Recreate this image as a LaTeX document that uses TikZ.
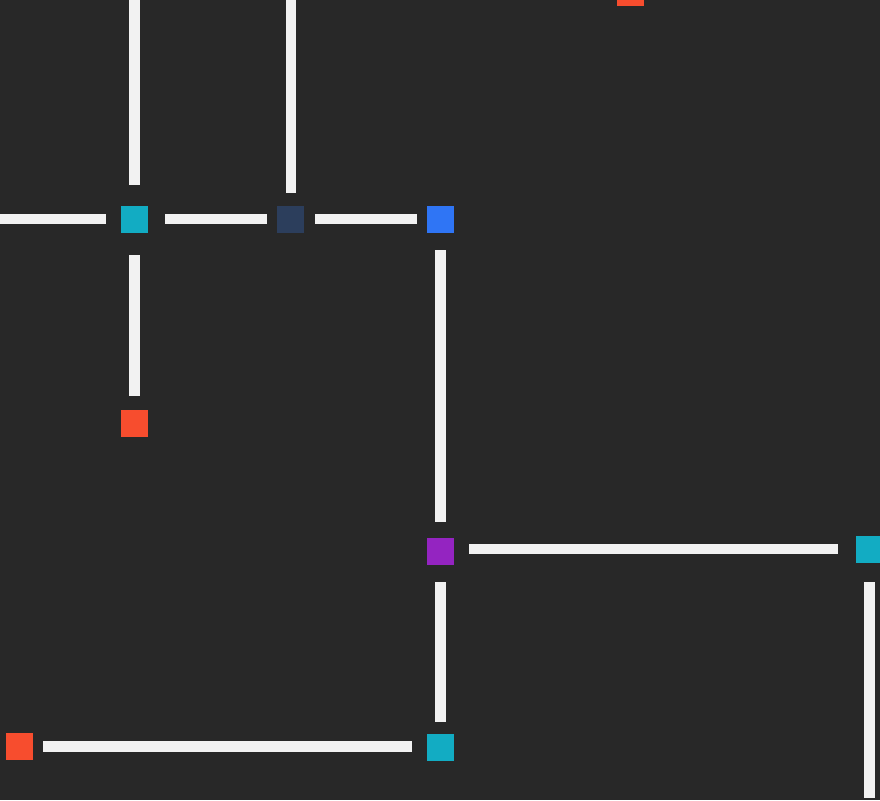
\documentclass[tikz,border=0pt]{standalone}
\usetikzlibrary{positioning}
\definecolor{bgdark}{HTML}{282828}
\definecolor{linkwhite}{HTML}{F2F2F2}
\definecolor{tealbox}{HTML}{12ACC3}
\definecolor{navybox}{HTML}{2C3E5C}
\definecolor{bluebox}{HTML}{2F75F5}
\definecolor{purplebox}{HTML}{9424C1}
\definecolor{redbox}{HTML}{F74D2E}

\begin{document}
\begin{tikzpicture}[
x=1pt, y=-1pt,
every node/.style={rectangle, minimum size=27pt, inner sep=0pt, outer sep=0pt},
link/.style={draw=linkwhite, line width=10.5pt}
]

\fill[bgdark] (0,0) rectangle (880,800);
\useasboundingbox (0,0) rectangle (880,800);
\clip (0,0) rectangle (880,800);

\node[fill=tealbox] (hub) at (134.5,219.5) {};
\node[fill=navybox] (navy) at (290.5,219) {};
\node[fill=bluebox] (blue) at (440.5,219) {};
\node[fill=redbox] (redmid) at (134.5,423) {};
\node[fill=purplebox] (purple) at (440.5,551.5) {};
\node[fill=tealbox] (tealright) at (869.5,549) {};
\node[fill=tealbox] (tealbottom) at (440.5,747.5) {};
\node[fill=redbox] (redleft) at (19.5,746.5) {};
\node[fill=redbox] (redtop) at (630.5,-7.5) {};

\coordinate (leftend) at (0,219);
\coordinate (topA) at (134.5,0);
\coordinate (topB) at (290.8,0);
\coordinate (bottomend) at (869.5,797.7);

\draw[link, shorten >=15.3pt] (leftend) -- (hub.west |- leftend);
\draw[link, shorten <=17pt, shorten >=10pt] (hub.east |- navy) -- (navy);
\draw[link, shorten <=11pt, shorten >=10pt] (navy) -- (blue);
\draw[link, shorten >=21pt] (topA) -- (hub.north);
\draw[link, shorten >=12.3pt] (topB) -- (topB |- navy.north);
\draw[link, shorten <=22pt, shorten >=13.7pt] (hub) -- (redmid);
\draw[link, shorten <=17.5pt, shorten >=16.3pt] (blue) -- (purple);
\draw[link, shorten <=15.3pt, shorten >=17.7pt] (purple.east |- tealright) -- (tealright);
\draw[link, shorten <=17.3pt, shorten >=12.3pt] (purple) -- (tealbottom);
\draw[link, shorten <=10pt, shorten >=15.3pt] (redleft) -- (tealbottom.west |- redleft);
\draw[link, shorten <=19.8pt] (tealright) -- (bottomend);

\end{tikzpicture}
\end{document}
